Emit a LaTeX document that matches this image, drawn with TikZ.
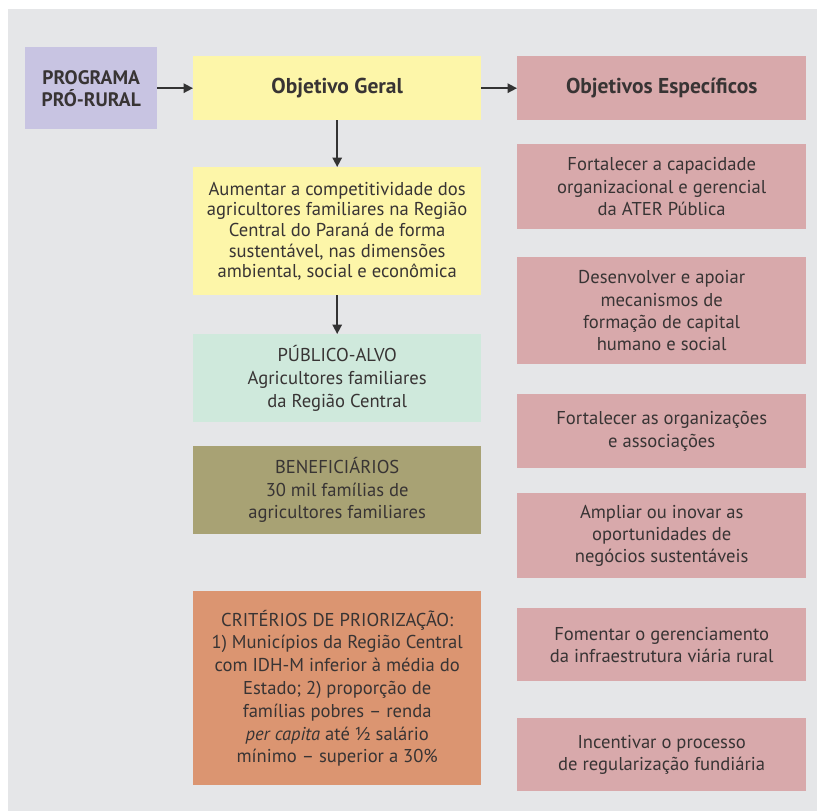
\documentclass[tikz,border=0pt]{standalone}
\usepackage{fontspec}
\setmainfont{PT Sans}
\usetikzlibrary{arrows.meta}
\definecolor{bg}{HTML}{E5E6E8}
\definecolor{lav}{HTML}{C8C4E2}
\definecolor{yel}{HTML}{FDF6A9}
\definecolor{pnk}{HTML}{D8A9AB}
\definecolor{grn}{HTML}{CFE9DC}
\definecolor{olv}{HTML}{A8A274}
\definecolor{org}{HTML}{DB9571}
\definecolor{txt}{HTML}{383434}
\definecolor{arrc}{HTML}{333333}
\begin{document}
\begin{tikzpicture}[x=1pt,y=-1pt,
  box/.style={rectangle, inner sep=0pt, anchor=north west, align=center, text=txt,
    font=\fontsize{18.6}{20.6}\selectfont},
  rbox/.style={box, fill=pnk, minimum width=289pt, font=\fontsize{18.6}{22.2}\selectfont},
  lbox/.style={box, minimum width=288pt},
  title/.style={font=\fontsize{21.5}{24}\selectfont\bfseries},
  arr/.style={draw=arrc, line width=1.6pt, -{Triangle[length=9.5pt,width=9.5pt]}}]
\useasboundingbox (0,0) rectangle (823,811);
\fill[bg] (8,9) rectangle (817,811);
% left / middle column
\node[box, fill=lav, minimum width=132pt, minimum height=82pt,
  font=\fontsize{19.5}{22}\selectfont\bfseries] (prog) at (25,47) {PROGRAMA\\PRÓ-RURAL};
\node[lbox, fill=yel, minimum height=64pt, title] (og) at (193,56) {Objetivo Geral};
\node[rbox, minimum height=64pt, title] (oe) at (517,56) {Objetivos Específicos};
\node[lbox, fill=yel, minimum height=128pt] (aum) at (193,167)
  {Aumentar a competitividade dos\\agricultores familiares na Região\\Central do Paraná de forma\\sustentável, nas dimensões\\ambiental, social e econômica};
\node[lbox, fill=grn, minimum height=88pt, font=\fontsize{18.6}{23}\selectfont] (pub) at (193,334)
  {PÚBLICO-ALVO\\Agricultores familiares\\da Região Central};
\node[lbox, fill=olv, minimum height=88pt, font=\fontsize{18.6}{22.5}\selectfont] (ben) at (193,446)
  {BENEFICIÁRIOS\\30 mil famílias de\\agricultores familiares};
\node[lbox, fill=org, minimum height=194pt, font=\fontsize{18.6}{22.8}\selectfont] (crit) at (193,591)
  {CRITÉRIOS DE PRIORIZAÇÃO:\\1) Municípios da Região Central\\com IDH-M inferior à média do\\Estado; 2) proporção de\\famílias pobres – renda\\\textit{per capita} até ½ salário\\mínimo – superior a 30\%};
% right column
\node[rbox, minimum height=85pt] (r1) at (517,144)
  {Fortalecer a capacidade\\organizacional e gerencial\\da ATER Pública};
\node[rbox, minimum height=107pt] (r2) at (517,257)
  {Desenvolver e apoiar\\mecanismos de\\formação de capital\\humano e social};
\node[rbox, minimum height=74pt] (r3) at (517,394)
  {Fortalecer as organizações\\e associações};
\node[rbox, minimum height=85pt] (r4) at (517,493)
  {Ampliar ou inovar as\\oportunidades de\\negócios sustentáveis};
\node[rbox, minimum height=73pt] (r5) at (517,608)
  {Fomentar o gerenciamento\\da infraestrutura viária rural};
\node[rbox, minimum height=73pt] (r6) at (517,718)
  {Incentivar o processo\\de regularização fundiária};
% connectors
\draw[arr] (prog.east) -- (og.west);
\draw[arr] (og.east) -- (oe.west);
\draw[arr] (og.south) -- (aum.north);
\draw[arr] (aum.south) -- (pub.north);
\end{tikzpicture}
\end{document}
